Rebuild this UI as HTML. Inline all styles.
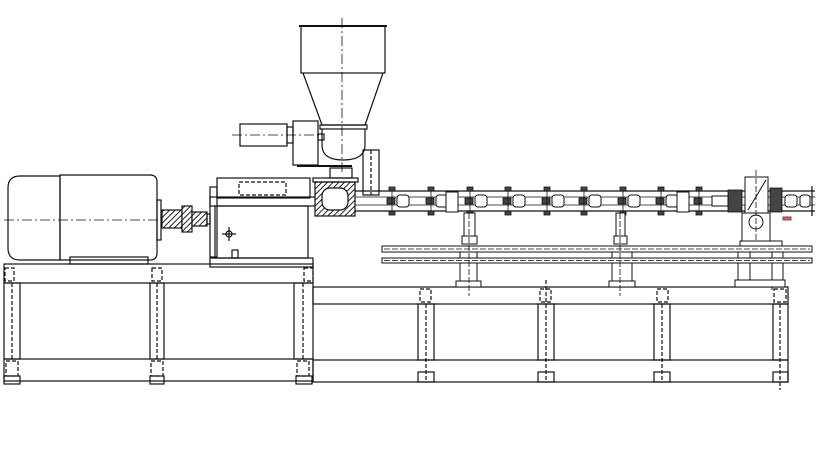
<!DOCTYPE html>
<html><head><meta charset="utf-8"><style>html,body{margin:0;padding:0;background:#fff}svg{display:block}</style></head>
<body>
<svg width="820" height="460" viewBox="0 0 820 460" xmlns="http://www.w3.org/2000/svg">
<defs>
<pattern id="h" width="4" height="4" patternUnits="userSpaceOnUse" patternTransform="rotate(45)">
<rect width="4" height="4" fill="#fff"/><line x1="0" y1="0" x2="0" y2="4" stroke="#222" stroke-width="2"/>
</pattern>
</defs>
<rect width="820" height="460" fill="#fff"/>
<g fill="none" stroke="#111" stroke-width="1.2">
<rect x="4" y="264" width="309" height="19"/>
<rect x="4" y="359" width="309" height="22"/>
<rect x="4" y="283" width="16" height="76"/>
<rect x="150" y="283" width="14" height="76"/>
<rect x="294" y="283" width="19" height="76"/>
<g stroke-dasharray="4,2">
<rect x="5" y="268" width="9" height="13"/><rect x="152" y="268" width="10" height="13"/><rect x="304" y="268" width="9" height="13"/>
<rect x="6" y="361" width="12" height="15"/><rect x="151" y="361" width="12" height="15"/><rect x="297" y="361" width="12" height="15"/>
<line x1="12" y1="283" x2="12" y2="359"/><line x1="157" y1="283" x2="157" y2="359"/><line x1="303" y1="283" x2="303" y2="359"/>
</g>
<rect x="4" y="376" width="16" height="8"/><rect x="150" y="376" width="14" height="8"/><rect x="296" y="376" width="16" height="8"/>
<rect x="313" y="287" width="475" height="17"/>
<rect x="313" y="360" width="475" height="22"/>
<rect x="418" y="304" width="16" height="56"/>
<rect x="538" y="304" width="16" height="56"/>
<rect x="654" y="304" width="16" height="56"/>
<rect x="773" y="304" width="15" height="56"/>
<g stroke-dasharray="4,2">
<rect x="420" y="289" width="11" height="13"/><rect x="540" y="289" width="11" height="13"/><rect x="657" y="289" width="11" height="13"/><rect x="774" y="289" width="12" height="13"/>
<line x1="426" y1="304" x2="426" y2="380"/><line x1="546" y1="280" x2="546" y2="380"/><line x1="662" y1="304" x2="662" y2="380"/><line x1="780" y1="304" x2="780" y2="390"/>
</g>
<rect x="418" y="372" width="16" height="10"/><rect x="538" y="372" width="16" height="10"/><rect x="654" y="372" width="16" height="10"/><rect x="773" y="372" width="15" height="10"/>
<path d="M20 176 H60 V260 H20 Q8 260 8 248 V188 Q8 176 20 176 Z"/>
<path d="M60 175 H150 Q157 175 157 182 V253 Q157 260 150 260 H60 Z"/>
<rect x="70" y="257" width="78" height="7"/>
<rect x="157" y="200" width="4" height="40"/>
<line x1="4" y1="220" x2="160" y2="220" stroke-dasharray="10,3,2,3" stroke-width="0.8"/>
<rect x="162" y="210" width="20" height="18" fill="url(#h)"/>
<rect x="182" y="206" width="10" height="26" fill="url(#h)"/>
<rect x="192" y="212" width="15" height="14" fill="url(#h)"/>
<rect x="207" y="214" width="3" height="10"/>
<rect x="217" y="178" width="93" height="20"/>
<rect x="239" y="182" width="47" height="13" stroke-dasharray="4,2"/>
<rect x="210" y="197" width="110" height="9"/>
<rect x="210" y="187" width="7" height="70"/>
<rect x="215" y="206" width="93" height="52"/>
<rect x="210" y="258" width="103" height="9"/>
<circle cx="229" cy="234" r="3"/><line x1="222" y1="234" x2="236" y2="234"/><line x1="229" y1="227" x2="229" y2="241"/>
<rect x="232" y="250" width="6" height="8"/>
<rect x="315" y="182" width="40" height="34" fill="url(#h)"/>
<rect x="322" y="188" width="26" height="22" rx="8" fill="#fff"/>
<rect x="313" y="178" width="45" height="4"/>
<line x1="342" y1="18" x2="342" y2="175" stroke-dasharray="10,3,2,3" stroke-width="0.8"/>
<rect x="301" y="26" width="84" height="47"/>
<line x1="299" y1="26" x2="387" y2="26" stroke-width="2"/>
<path d="M303 73 L322 125 H365 L383 73"/>
<rect x="320" y="125" width="47" height="4"/>
<path d="M322 129 V145 Q322 160 343 160 Q365 160 365 145 V129"/>
<rect x="240" y="124" width="47" height="22"/>
<rect x="287" y="127" width="6" height="16"/>
<rect x="293" y="121" width="25" height="44"/>
<rect x="318" y="134" width="6" height="6"/>
<line x1="232" y1="135" x2="322" y2="135" stroke-dasharray="10,3,2,3" stroke-width="0.8"/>
<line x1="297" y1="166" x2="352" y2="166" stroke-width="2"/>
<rect x="330" y="168" width="22" height="10"/>
<rect x="363" y="150" width="16" height="45"/>
<line x1="371" y1="150" x2="371" y2="195" stroke-dasharray="4,2"/>
<line x1="355" y1="191" x2="815" y2="191"/>
<line x1="355" y1="211" x2="815" y2="211"/>
<line x1="355" y1="197" x2="815" y2="197" stroke-width="0.8"/>
<line x1="355" y1="205" x2="815" y2="205" stroke-width="0.8"/>
<line x1="812" y1="186" x2="812" y2="216"/>
</g>
<g fill="#444" stroke="#111" stroke-width="0.8">
<rect x="389" y="187" width="6" height="4"/><rect x="389" y="211" width="6" height="4"/><rect x="387" y="198" width="8" height="6"/>
<rect x="428" y="187" width="6" height="4"/><rect x="428" y="211" width="6" height="4"/><rect x="426" y="198" width="8" height="6"/>
<rect x="467" y="187" width="6" height="4"/><rect x="467" y="211" width="6" height="4"/><rect x="465" y="198" width="8" height="6"/>
<rect x="505" y="187" width="6" height="4"/><rect x="505" y="211" width="6" height="4"/><rect x="503" y="198" width="8" height="6"/>
<rect x="544" y="187" width="6" height="4"/><rect x="544" y="211" width="6" height="4"/><rect x="542" y="198" width="8" height="6"/>
<rect x="581" y="187" width="6" height="4"/><rect x="581" y="211" width="6" height="4"/><rect x="579" y="198" width="8" height="6"/>
<rect x="620" y="187" width="6" height="4"/><rect x="620" y="211" width="6" height="4"/><rect x="618" y="198" width="8" height="6"/>
<rect x="658" y="187" width="6" height="4"/><rect x="658" y="211" width="6" height="4"/><rect x="656" y="198" width="8" height="6"/>
<rect x="696" y="187" width="6" height="4"/><rect x="696" y="211" width="6" height="4"/><rect x="694" y="198" width="8" height="6"/>
<rect x="728" y="190" width="14" height="22"/>
<rect x="770" y="188" width="12" height="24"/>
</g>
<g fill="none" stroke="#111" stroke-width="0.8">
<line x1="392" y1="191" x2="392" y2="211"/><line x1="431" y1="191" x2="431" y2="211"/><line x1="470" y1="191" x2="470" y2="211"/>
<line x1="508" y1="191" x2="508" y2="211"/><line x1="547" y1="191" x2="547" y2="211"/><line x1="584" y1="191" x2="584" y2="211"/>
<line x1="623" y1="191" x2="623" y2="211"/><line x1="661" y1="191" x2="661" y2="211"/><line x1="699" y1="191" x2="699" y2="211"/>
</g>
<g fill="#fff" stroke="#111" stroke-width="1">
<rect x="397" y="195" width="12" height="12" rx="3"/><rect x="436" y="195" width="12" height="12" rx="3"/>
<rect x="475" y="195" width="12" height="12" rx="3"/><rect x="513" y="195" width="12" height="12" rx="3"/>
<rect x="552" y="195" width="12" height="12" rx="3"/><rect x="589" y="195" width="12" height="12" rx="3"/>
<rect x="628" y="195" width="12" height="12" rx="3"/><rect x="666" y="195" width="12" height="12" rx="3"/>
<rect x="446" y="192" width="12" height="20"/><rect x="677" y="192" width="12" height="20"/>
<rect x="712" y="196" width="16" height="10"/>
<rect x="785" y="195" width="12" height="12" rx="3"/><rect x="800" y="195" width="10" height="12" rx="3"/>
<rect x="745" y="177" width="23" height="36"/>
<line x1="748" y1="210" x2="766" y2="180"/>
<rect x="742" y="213" width="28" height="28"/>
<circle cx="756" cy="222" r="7"/>
<rect x="740" y="241" width="42" height="6"/>
<rect x="738" y="247" width="45" height="33"/>
<line x1="750" y1="247" x2="750" y2="280"/><line x1="772" y1="247" x2="772" y2="290"/>
<rect x="735" y="280" width="50" height="7"/>
<rect x="783" y="217" width="8" height="3" fill="#c66" stroke="#844"/>
<rect x="464" y="213" width="11" height="23"/><rect x="462" y="236" width="15" height="8"/>
<rect x="460" y="252" width="17" height="29"/><rect x="456" y="281" width="25" height="6"/>
<rect x="616" y="213" width="9" height="23"/><rect x="614" y="236" width="13" height="8"/>
<rect x="612" y="252" width="20" height="29"/><rect x="609" y="281" width="26" height="6"/>
<rect x="382" y="246" width="430" height="6"/>
<rect x="382" y="258" width="430" height="5"/>
</g>
<g stroke="#111" stroke-width="0.8" fill="none" stroke-dasharray="6,2">
<line x1="384" y1="249" x2="810" y2="249"/><line x1="384" y1="260.5" x2="810" y2="260.5"/>
<line x1="469" y1="213" x2="469" y2="296"/><line x1="620" y1="213" x2="620" y2="296"/><line x1="756" y1="170" x2="756" y2="240"/>
</g>
</svg>
</body></html>
